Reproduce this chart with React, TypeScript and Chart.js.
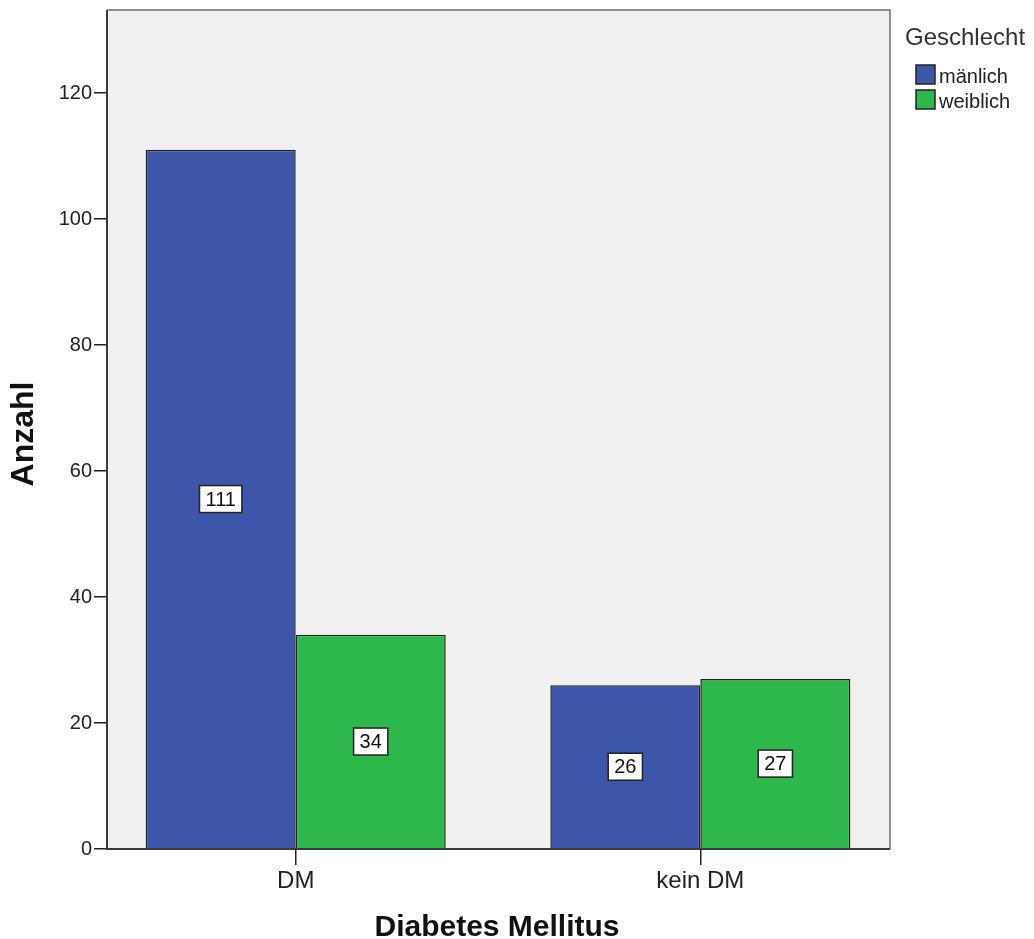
import { useEffect, useRef } from "react";
import { Chart, registerables } from "chart.js";

Chart.register(...registerables);

// Counts by diabetes status, split by sex
const categories = ["DM", "kein DM"];
const seriesNames = ["mänlich", "weiblich"];
const maleCounts = [111, 26];
const femaleCounts = [34, 27];
const yTicks = [0, 20, 40, 60, 80, 100, 120];
const yMax = 133.2;
const xTitle = "Diabetes Mellitus";
const yTitle = "Anzahl";
const legendTitle = "Geschlecht";

const seriesColors = ["#3D56AA", "#2EB84B"];
const FONT = "'Liberation Sans', Arial, sans-serif";
const INK = "#222222";

const decorPlugin = {
  id: "decor",
  beforeDraw(chart: any) {
    const { ctx, chartArea: a, width, height } = chart;
    ctx.save();
    ctx.fillStyle = "#ffffff";
    ctx.fillRect(0, 0, width, height);
    ctx.fillStyle = "#F0F0F0";
    ctx.fillRect(a.left, a.top, a.right - a.left, a.bottom - a.top);
    ctx.restore();
  },
  afterDatasetsDraw(chart: any) {
    const { ctx, chartArea: a } = chart;
    ctx.save();
    // plot frame: light top/right, dark axes
    ctx.lineWidth = 1.5;
    ctx.strokeStyle = "#707070";
    ctx.beginPath();
    ctx.moveTo(a.left, a.top);
    ctx.lineTo(a.right, a.top);
    ctx.lineTo(a.right, a.bottom);
    ctx.stroke();
    ctx.lineWidth = 2;
    ctx.strokeStyle = "#3a3a3a";
    ctx.beginPath();
    ctx.moveTo(a.left, a.top);
    ctx.lineTo(a.left, a.bottom);
    ctx.lineTo(a.right, a.bottom);
    ctx.stroke();

    // value boxes in the middle of each bar
    ctx.font = `20px ${FONT}`;
    ctx.textAlign = "center";
    ctx.textBaseline = "middle";
    chart.data.datasets.forEach((ds: any, di: number) => {
      const meta = chart.getDatasetMeta(di);
      meta.data.forEach((el: any, i: number) => {
        const v = ds.data[i].y;
        const text = String(v);
        const cx = el.x;
        const cy = (el.y + el.base) / 2;
        const w = ctx.measureText(text).width + 12;
        const h = 27;
        ctx.fillStyle = "#ffffff";
        ctx.fillRect(cx - w / 2, cy - h / 2, w, h);
        ctx.lineWidth = 1.5;
        ctx.strokeStyle = INK;
        ctx.strokeRect(cx - w / 2, cy - h / 2, w, h);
        ctx.fillStyle = "#111111";
        ctx.fillText(text, cx, cy + 1);
      });
    });
    ctx.restore();
  },
  afterDraw(chart: any) {
    const { ctx } = chart;
    ctx.save();
    // axis titles
    ctx.fillStyle = "#111111";
    ctx.textAlign = "center";
    ctx.textBaseline = "alphabetic";
    ctx.font = `bold 30px ${FONT}`;
    ctx.fillText(xTitle, 497, 936);
    ctx.save();
    ctx.font = `bold 32px ${FONT}`;
    ctx.translate(33, 434);
    ctx.rotate(-Math.PI / 2);
    ctx.fillText(yTitle, 0, 0);
    ctx.restore();

    // legend
    ctx.textAlign = "left";
    ctx.fillStyle = "#333333";
    ctx.font = `24px ${FONT}`;
    ctx.fillText(legendTitle, 905, 45);
    ctx.font = `20px ${FONT}`;
    chart.data.datasets.forEach((ds: any, i: number) => {
      const top = 65 + i * 25;
      ctx.fillStyle = ds.backgroundColor;
      ctx.fillRect(916, top, 19, 19);
      ctx.lineWidth = 1.5;
      ctx.strokeStyle = INK;
      ctx.strokeRect(916, top, 19, 19);
      ctx.fillStyle = "#222222";
      ctx.textBaseline = "alphabetic";
      ctx.fillText(ds.label, 939, top + 18);
    });
    ctx.restore();
  },
};

export default function App() {
  const canvasRef = useRef<HTMLCanvasElement | null>(null);

  useEffect(() => {
    const canvas = canvasRef.current;
    if (!canvas) return;
    const toPoints = (vals: number[]) => vals.map((v, i) => ({ x: i, y: v }));
    const chart = new Chart(canvas, {
      type: "bar",
      data: {
        datasets: [
          {
            label: seriesNames[0],
            data: toPoints(maleCounts),
            backgroundColor: seriesColors[0],
            borderColor: INK,
            borderWidth: 1.5,
            categoryPercentage: 0.7415,
            barPercentage: 1,
          },
          {
            label: seriesNames[1],
            data: toPoints(femaleCounts),
            backgroundColor: seriesColors[1],
            borderColor: INK,
            borderWidth: 1.5,
            categoryPercentage: 0.7415,
            barPercentage: 1,
          },
        ],
      },
      options: {
        responsive: false,
        animation: false,
        devicePixelRatio: 1,
        layout: { padding: { top: 10, right: 144, left: 0, bottom: 0 } },
        plugins: {
          legend: { display: false },
          tooltip: { enabled: false },
        },
        scales: {
          x: {
            type: "linear",
            min: -0.4664,
            max: 1.4688,
            offset: false,
            afterBuildTicks: (s: any) => {
              s.ticks = categories.map((_, i) => ({ value: i }));
            },
            afterFit: (s: any) => {
              s.height = 90;
              s.paddingLeft = 0;
              s.paddingRight = 0;
            },
            grid: {
              display: true,
              offset: false,
              drawOnChartArea: false,
              drawTicks: true,
              tickLength: 16,
              color: INK,
              lineWidth: 1.5,
            },
            border: { display: false },
            ticks: {
              callback: (v: any) => categories[v] ?? "",
              font: { family: FONT, size: 24 },
              color: INK,
              padding: 2,
              maxRotation: 0,
              autoSkip: false,
            },
          },
          y: {
            type: "linear",
            min: 0,
            max: yMax,
            afterBuildTicks: (s: any) => {
              s.ticks = yTicks.map((v) => ({ value: v }));
            },
            afterFit: (s: any) => {
              s.width = 107;
              s.paddingTop = 0;
              s.paddingBottom = 0;
            },
            grid: {
              display: true,
              drawOnChartArea: false,
              drawTicks: true,
              tickLength: 13,
              color: INK,
              lineWidth: 1.5,
            },
            border: { display: false },
            ticks: {
              font: { family: FONT, size: 20 },
              color: INK,
              padding: 2,
            },
          },
        },
      },
      plugins: [decorPlugin],
    });
    return () => chart.destroy();
  }, []);

  return (
    <div
      style={{
        position: "fixed",
        left: 0,
        top: 0,
        width: 1034,
        height: 939,
        background: "#ffffff",
      }}
    >
      <canvas ref={canvasRef} width={1034} height={939} />
    </div>
  );
}
